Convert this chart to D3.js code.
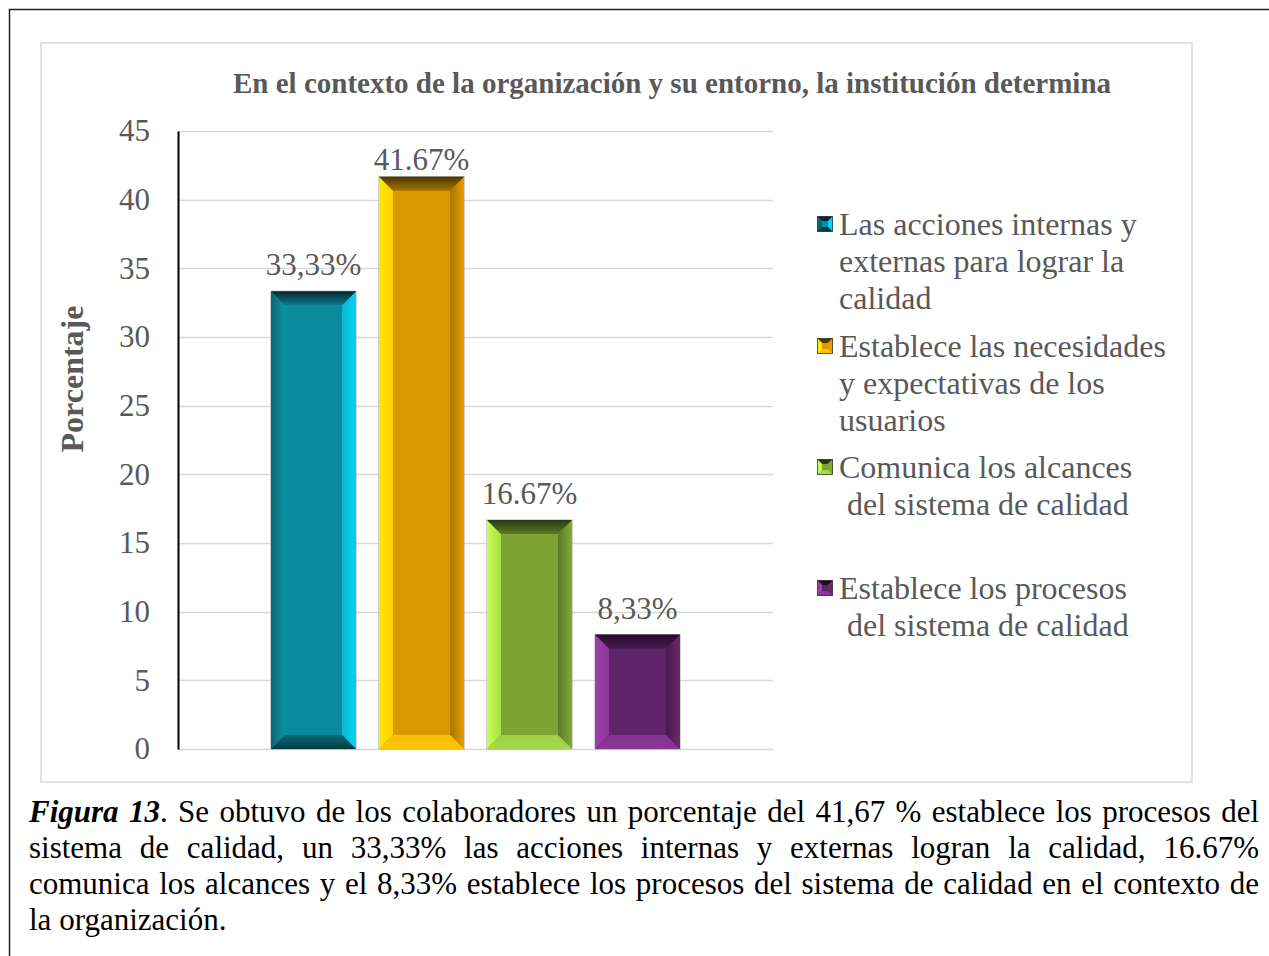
<!DOCTYPE html>
<html>
<head>
<meta charset="utf-8">
<script src="https://cdn.jsdelivr.net/npm/d3@7"></script>
<style>
  body { margin: 0; background: #fff; }
  svg { display: block; font-family: "Liberation Serif", "Times New Roman", serif; }
</style>
</head>
<body>
<div id="chart"></div>
<script>
// data
var categories = [
    "Las acciones internas y externas para lograr la calidad",
    "Establece las necesidades y expectativas de los usuarios",
    "Comunica los alcances del sistema de calidad",
    "Establece los procesos del sistema de calidad"
];
var values = [33.33, 41.67, 16.67, 8.33];
var valueLabels = ["33,33%", "41.67%", "16.67%", "8,33%"];
var legendLines = [
    ["Las acciones internas y", "externas para lograr la", "calidad"],
    ["Establece las necesidades", "y expectativas de los", "usuarios"],
    ["Comunica los alcances", " del sistema de calidad"],
    ["Establece los procesos", " del sistema de calidad"]
];
var chartTitle = "En el contexto de la organización y su entorno, la institución determina";
var yTitle = "Porcentaje";
var captionLines = [
    "Figura 13. Se obtuvo de los colaboradores un porcentaje del 41,67 % establece los procesos del",
    "sistema de calidad, un 33,33% las acciones internas y externas logran la calidad, 16.67%",
    "comunica los alcances y el 8,33% establece los procesos del sistema de calidad en el contexto de",
    "la organización."
];

// bevel colours per series: face, left edge/inner, right inner/edge, top edge/inner, bottom inner/edge
var palette = [
    {face: "#0a8b9d", l: ["#0a6473", "#0c93a6"], r: ["#0ab8d2", "#00d6f6"], t: ["#03272e", "#0a7a8a"], b: ["#0a6c7a", "#053a44"]},
    {face: "#d99a00", l: ["#ffea00", "#ffd200"], r: ["#a87400", "#e89c00"], t: ["#4e3800", "#a27200"], b: ["#ffbe00", "#ffc400"]},
    {face: "#7da335", l: ["#c4ff52", "#a8df42"], r: ["#5a7a20", "#83ab38"], t: ["#263a10", "#5a7a28"], b: ["#9fcf46", "#a8d94a"]},
    {face: "#5d2469", l: ["#9c42aa", "#8a3598"], r: ["#471950", "#6a2a6a"], t: ["#220a26", "#4a1a52"], b: ["#84318f", "#8c3697"]}
];

var W = 1269, H = 956;
var svg = d3.select("#chart").append("svg")
    .attr("width", W)
    .attr("height", H);

var defs = svg.append("defs");

// outer frame (left + top)
svg.append("path")
    .attr("d", "M9.5," + H + "V9.5H" + W)
    .attr("fill", "none")
    .attr("stroke", "#222")
    .attr("stroke-width", 1.5);

// chart area box
svg.append("rect")
    .attr("x", 41).attr("y", 43)
    .attr("width", 1151).attr("height", 739)
    .attr("fill", "#fff")
    .attr("stroke", "#d9d9d9")
    .attr("stroke-width", 1.5);

var plot = {left: 178, right: 773, top: 131, bottom: 749};

var y = d3.scaleLinear().domain([0, 45]).range([plot.bottom, plot.top]);
var mid = (plot.left + plot.right) / 2;
var x = d3.scaleBand()
    .domain(categories)
    .range([mid - 216, mid + 216])
    .paddingInner(0.213)
    .paddingOuter(0.1065);

// gridlines
svg.append("g")
    .selectAll("line")
    .data(y.ticks(9))
    .enter().append("line")
    .attr("x1", plot.left).attr("x2", plot.right)
    .attr("y1", function (d) { return Math.round(y(d)) + 0.5; })
    .attr("y2", function (d) { return Math.round(y(d)) + 0.5; })
    .attr("stroke", "#d9d9d9")
    .attr("stroke-width", 1.5);

// y axis
var yAxis = svg.append("g")
    .attr("transform", "translate(" + plot.left + ",0)")
    .call(d3.axisLeft(y).ticks(9).tickSize(0).tickPadding(28));
yAxis.select(".domain").attr("stroke", "#000").attr("stroke-width", 2);
yAxis.selectAll("text")
    .attr("fill", "#595959")
    .style("font-size", "31px")
    .style("font-family", "'Liberation Serif', 'Times New Roman', serif");

// gradients
function grad(id, x1, y1, x2, y2, c) {
    var g = defs.append("linearGradient").attr("id", id)
        .attr("x1", x1).attr("y1", y1).attr("x2", x2).attr("y2", y2);
    g.append("stop").attr("offset", "0%").attr("stop-color", c[0]);
    g.append("stop").attr("offset", "100%").attr("stop-color", c[1]);
}
palette.forEach(function (p, i) {
    grad("gl" + i, 0, 0, 1, 0, p.l);
    grad("gr" + i, 0, 0, 1, 0, p.r);
    grad("gt" + i, 0, 0, 0, 1, p.t);
    grad("gb" + i, 0, 0, 0, 1, p.b);
});

// bevelled bars
var bv = 14;
var bars = svg.append("g").selectAll("g")
    .data(values)
    .enter().append("g");

function facePts(d, i, side) {
    var x0 = x(categories[i]), x1 = x0 + x.bandwidth();
    var y0 = y(d), y1 = y(0);
    var b = Math.min(bv, (y1 - y0) / 2);
    if (side === "l") return [[x0, y0], [x0 + bv, y0 + b], [x0 + bv, y1 - b], [x0, y1]];
    if (side === "r") return [[x1, y0], [x1 - bv, y0 + b], [x1 - bv, y1 - b], [x1, y1]];
    if (side === "t") return [[x0, y0], [x1, y0], [x1 - bv, y0 + b], [x0 + bv, y0 + b]];
    return [[x0, y1], [x1, y1], [x1 - bv, y1 - b], [x0 + bv, y1 - b]];
}

bars.append("rect")
    .attr("x", function (d, i) { return x(categories[i]); })
    .attr("y", function (d) { return y(d); })
    .attr("width", x.bandwidth())
    .attr("height", function (d) { return y(0) - y(d); })
    .attr("fill", function (d, i) { return palette[i].face; })
    .attr("stroke", "#a6a6a6")
    .attr("stroke-width", 1);

["l", "r", "t", "b"].forEach(function (s) {
    bars.append("polygon")
        .attr("points", function (d, i) { return facePts(d, i, s).join(" "); })
        .attr("fill", function (d, i) { return "url(#g" + s + i + ")"; });
});

// value labels (kept clear of the top of the plot)
svg.append("g").selectAll("text")
    .data(values)
    .enter().append("text")
    .attr("x", function (d, i) { return x(categories[i]) + x.bandwidth() / 2; })
    .attr("y", function (d) { return Math.max(y(d) - 16, plot.top + 39); })
    .attr("text-anchor", "middle")
    .attr("fill", "#595959")
    .style("font-size", "31px")
    .text(function (d, i) { return valueLabels[i]; });

// title
svg.append("text")
    .attr("x", 672).attr("y", 93)
    .attr("text-anchor", "middle")
    .attr("fill", "#595959")
    .style("font-size", "29px")
    .style("font-weight", "bold")
    .text(chartTitle);

// y title
svg.append("text")
    .attr("transform", "translate(83,379) rotate(-90)")
    .attr("text-anchor", "middle")
    .attr("fill", "#595959")
    .style("font-size", "32px")
    .style("font-weight", "bold")
    .text(yTitle);

// legend
var legendTop = [224, 346, 467, 588];
var lineH = 37;
var legend = svg.append("g").selectAll("g")
    .data(categories)
    .enter().append("g")
    .attr("transform", function (d, i) { return "translate(817," + legendTop[i] + ")"; });

legend.each(function (d, i) {
    var g = d3.select(this), p = palette[i], s = 16, h = s / 2;
    g.append("rect").attr("x", 0).attr("y", -h).attr("width", s).attr("height", s).attr("fill", p.face);
    g.append("polygon").attr("points", [[0, -h], [s, -h], [h + 3, -3], [h - 3, -3]].join(" ")).attr("fill", p.t[0]);
    g.append("polygon").attr("points", [[0, -h], [h - 3, -3], [h - 3, 3], [0, h]].join(" ")).attr("fill", p.l[0]);
    g.append("polygon").attr("points", [[s, -h], [h + 3, -3], [h + 3, 3], [s, h]].join(" ")).attr("fill", p.r[1]);
    g.append("polygon").attr("points", [[0, h], [s, h], [h + 3, 3], [h - 3, 3]].join(" ")).attr("fill", p.b[1]);
    g.append("rect").attr("x", 0.5).attr("y", -h + 0.5).attr("width", s - 1).attr("height", s - 1)
        .attr("fill", "none").attr("stroke", "#404040").attr("stroke-width", 0.8);

    legendLines[i].forEach(function (line, k) {
        var indent = line.charAt(0) === " " ? 8 : 0;
        g.append("text")
            .attr("x", 22 + indent)
            .attr("y", k * lineH + 11)
            .attr("fill", "#595959")
            .style("font-size", "32px")
            .text(line.trim());
    });
});

// caption, justified like the document text
var cap = svg.append("g").style("font-size", "31px").attr("fill", "#000");
var capLeft = 29, capRight = 1259, capTop = 822, capStep = 36;

captionLines.forEach(function (line, li) {
    var words = line.split(" ").map(function (w, wi) {
        if (li === 0 && wi === 0) return [{t: w, bi: true}];
        if (li === 0 && wi === 1) return [{t: "13", bi: true}, {t: w.slice(2), bi: false}];
        return [{t: w, bi: false}];
    });
    var nodes = words.map(function (segs) {
        var t = cap.append("text").attr("y", capTop + li * capStep);
        segs.forEach(function (s) {
            var ts = t.append("tspan").text(s.t);
            if (s.bi) ts.style("font-weight", "bold").style("font-style", "italic");
        });
        return t;
    });
    var widths = nodes.map(function (n) { return n.node().getComputedTextLength(); });
    var total = d3.sum(widths);
    var last = li === captionLines.length - 1;
    var gap = last ? 7.75 : (capRight - capLeft - total) / (nodes.length - 1);
    var cx = capLeft;
    nodes.forEach(function (n, k) {
        n.attr("x", cx);
        cx += widths[k] + gap;
    });
});
</script>
</body>
</html>
